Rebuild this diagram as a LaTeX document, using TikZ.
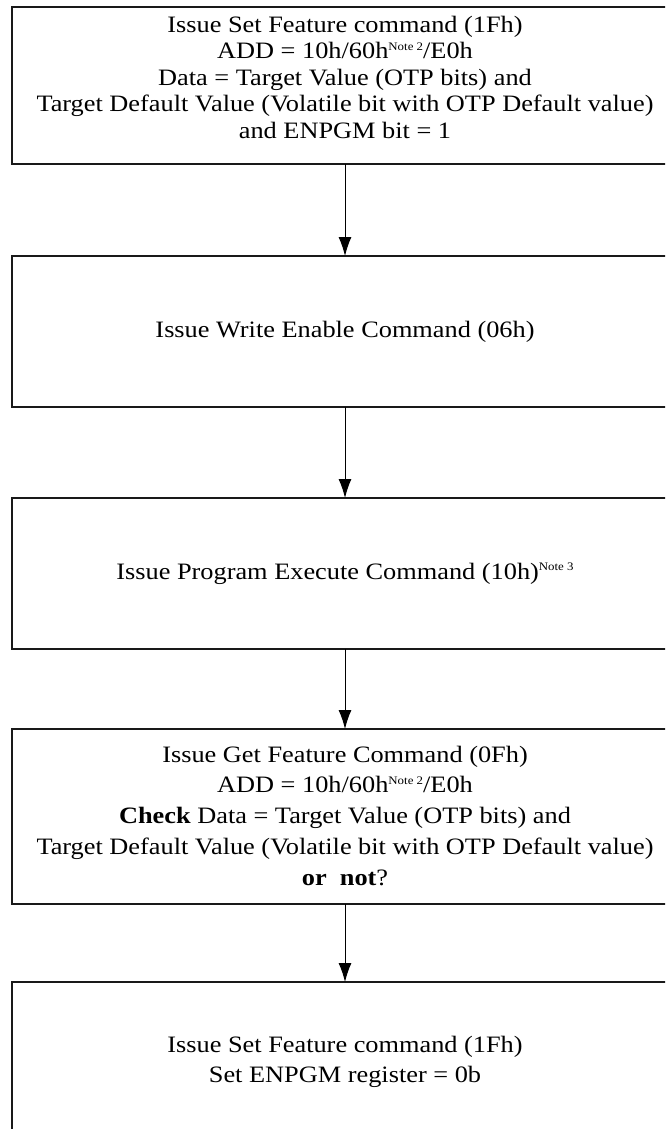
\documentclass[tikz,border=0pt]{standalone}
\usepackage{fontspec}
\setmainfont{Liberation Serif}[FakeStretch=1.12]
\usetikzlibrary{arrows.meta}
\newcommand{\notesup}[1]{\raisebox{8.5pt}{\fontsize{11.5}{11.5}\selectfont #1}}
\begin{document}
\begin{tikzpicture}[x=1pt,y=-1pt,
  box/.style={draw=black!90, line width=1.3pt, inner sep=0pt, outer sep=0pt, minimum width=666pt},
  txt/.style={inner sep=0pt, align=center, anchor=north},
  arr/.style={draw=black, line width=1pt, -{Latex[length=19pt,width=13pt]}}]
\useasboundingbox (0,0) rectangle (665,1129);
\clip (0,0) rectangle (665,1129);
% boxes
\node[box, minimum height=157pt] (b1) at (345,85.5) {};
\node[box, minimum height=151pt] (b2) at (345,331.5) {};
\node[box, minimum height=151pt] (b3) at (345,573.5) {};
\node[box, minimum height=175pt] (b4) at (345,816.5) {};
\node[box, minimum height=160pt] (b5) at (345,1062) {};
% texts
\node[txt, font=\fontsize{23.5}{26.5}\selectfont] (t1) at (345,14)
  {\rule{0pt}{18pt}Issue Set Feature command (1Fh)\\
   ADD = 10h/60h\notesup{Note 2}/E0h\\
   Data = Target Value (OTP bits) and\\
   Target Default Value (Volatile bit with OTP Default value)\\
   and ENPGM bit = 1};
\node[inner sep=0pt, font=\fontsize{23.5}{26.5}\selectfont] (t2) at (b2.center)
  {Issue Write Enable Command (06h)};
\node[inner sep=0pt, font=\fontsize{23.5}{26.5}\selectfont] (t3) at (b3.center)
  {Issue Program Execute Command (10h)\notesup{Note 3}};
\node[txt, font=\fontsize{23.5}{30.7}\selectfont] (t4) at (345,744)
  {\rule{0pt}{18pt}Issue Get Feature Command (0Fh)\\
   ADD = 10h/60h\notesup{Note 2}/E0h\\
   \textbf{Check} Data = Target Value (OTP bits) and\\
   Target Default Value (Volatile bit with OTP Default value)\\
   \textbf{or\ \ not}?};
\node[txt, font=\fontsize{23.5}{30}\selectfont] (t5) at (345,1034)
  {\rule{0pt}{18pt}Issue Set Feature command (1Fh)\\
   Set ENPGM register = 0b};
% connectors
\draw[arr] (b1.south) -- (b2.north);
\draw[arr] (b2.south) -- (b3.north);
\draw[arr] (b3.south) -- (b4.north);
\draw[arr] (b4.south) -- (b5.north);
\end{tikzpicture}
\end{document}
